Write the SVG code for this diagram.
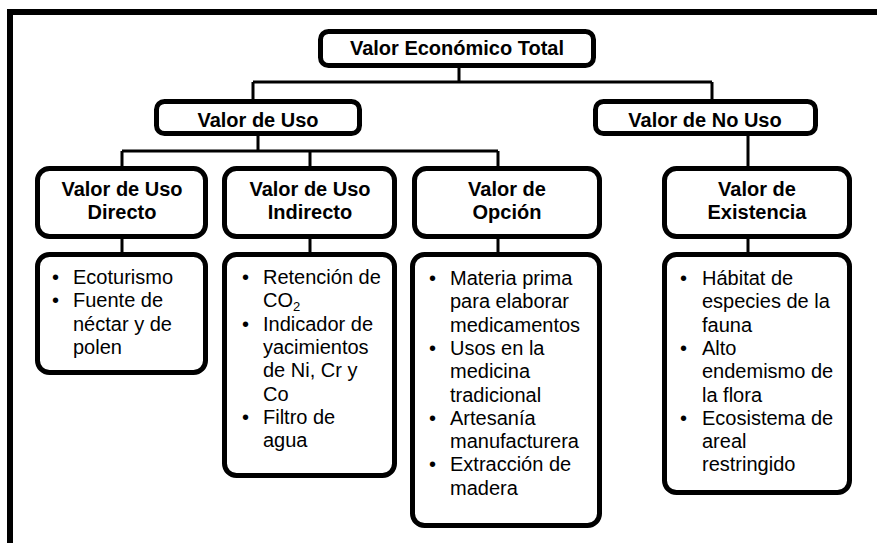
<svg xmlns="http://www.w3.org/2000/svg" width="877" height="543" viewBox="0 0 877 543">
<style>
.box{fill:#fff;stroke:#000;stroke-width:5}
.h{font-family:"Liberation Sans",Arial,sans-serif;font-size:20px;font-weight:bold;text-anchor:middle;fill:#000}
.t{font-family:"Liberation Sans",Arial,sans-serif;font-size:20px;fill:#000}
.c{fill:none;stroke:#000;stroke-width:3}
</style>
<rect width="877" height="543" fill="#fff"/>
<path d="M10,543 V12 H880" fill="none" stroke="#000" stroke-width="6"/>
<g id="connectors">
<path class="c" d="M459,68 V82 M253,82 H712 M253,82 V101 M712,82 V101"/>
<path class="c" d="M258,135 V151 M122,151 H498 M122,151 V168 M310,151 V168 M498,151 V168 M748,135 V168"/>
<path class="c" d="M122,238 V254 M310,238 V254 M498,238 V254 M748,238 V254"/>
</g>
<g id="n-total"><rect class="box" x="320.5" y="31.5" width="273" height="34" rx="8"/><text class="h" x="457" y="55">Valor Económico Total</text></g>
<g id="n-uso"><rect class="box" x="156.5" y="101.5" width="203" height="32" rx="8"/><text class="h" x="258" y="127">Valor de Uso</text></g>
<g id="n-nouso"><rect class="box" x="595.5" y="101.5" width="220" height="32" rx="8"/><text class="h" x="705" y="127">Valor de No Uso</text></g>
<g id="n-directo"><rect class="box" x="37.5" y="168.5" width="168" height="68" rx="12"/><text class="h" x="122" y="196">Valor de Uso</text><text class="h" x="122" y="219">Directo</text></g>
<g id="n-indirecto"><rect class="box" x="224.5" y="168.5" width="170" height="68" rx="12"/><text class="h" x="310" y="196">Valor de Uso</text><text class="h" x="310" y="219">Indirecto</text></g>
<g id="n-opcion"><rect class="box" x="414.5" y="168.5" width="185" height="68" rx="12"/><text class="h" x="507" y="196">Valor de</text><text class="h" x="507" y="219">Opción</text></g>
<g id="n-existencia"><rect class="box" x="664.5" y="168.5" width="185" height="68" rx="12"/><text class="h" x="757" y="196">Valor de</text><text class="h" x="757" y="219">Existencia</text></g>
<g id="l-directo"><rect class="box" x="37.5" y="254.5" width="168" height="118" rx="12"/>
<text class="t" x="52" y="284">•</text><text class="t" x="73" y="284">Ecoturismo</text>
<text class="t" x="52" y="307.3">•</text><text class="t" x="73" y="307.3">Fuente de</text>
<text class="t" x="73" y="330.6">néctar y de</text>
<text class="t" x="73" y="353.9">polen</text></g>
<g id="l-indirecto"><rect class="box" x="224.5" y="254.5" width="170" height="221" rx="12"/>
<text class="t" x="242" y="284">•</text><text class="t" x="263" y="284">Retención de</text>
<text class="t" x="263" y="307.3">CO<tspan font-size="13" dy="4">2</tspan></text>
<text class="t" x="242" y="330.6">•</text><text class="t" x="263" y="330.6">Indicador de</text>
<text class="t" x="263" y="353.9">yacimientos</text>
<text class="t" x="263" y="377.2">de Ni, Cr y</text>
<text class="t" x="263" y="400.5">Co</text>
<text class="t" x="242" y="423.8">•</text><text class="t" x="263" y="423.8">Filtro de</text>
<text class="t" x="263" y="447.1">agua</text></g>
<g id="l-opcion"><rect class="box" x="412.5" y="254.5" width="187" height="271" rx="12"/>
<text class="t" x="429" y="285">•</text><text class="t" x="450" y="285">Materia prima</text>
<text class="t" x="450" y="308.3">para elaborar</text>
<text class="t" x="450" y="331.6">medicamentos</text>
<text class="t" x="429" y="354.9">•</text><text class="t" x="450" y="354.9">Usos en la</text>
<text class="t" x="450" y="378.2">medicina</text>
<text class="t" x="450" y="401.5">tradicional</text>
<text class="t" x="429" y="424.8">•</text><text class="t" x="450" y="424.8">Artesanía</text>
<text class="t" x="450" y="448.1">manufacturera</text>
<text class="t" x="429" y="471.4">•</text><text class="t" x="450" y="471.4">Extracción de</text>
<text class="t" x="450" y="494.7">madera</text></g>
<g id="l-existencia"><rect class="box" x="664.5" y="254.5" width="185" height="238" rx="12"/>
<text class="t" x="680" y="285">•</text><text class="t" x="702" y="285">Hábitat de</text>
<text class="t" x="702" y="308.3">especies de la</text>
<text class="t" x="702" y="331.6">fauna</text>
<text class="t" x="680" y="354.9">•</text><text class="t" x="702" y="354.9">Alto</text>
<text class="t" x="702" y="378.2">endemismo de</text>
<text class="t" x="702" y="401.5">la flora</text>
<text class="t" x="680" y="424.8">•</text><text class="t" x="702" y="424.8">Ecosistema de</text>
<text class="t" x="702" y="448.1">areal</text>
<text class="t" x="702" y="471.4">restringido</text></g>
</svg>
